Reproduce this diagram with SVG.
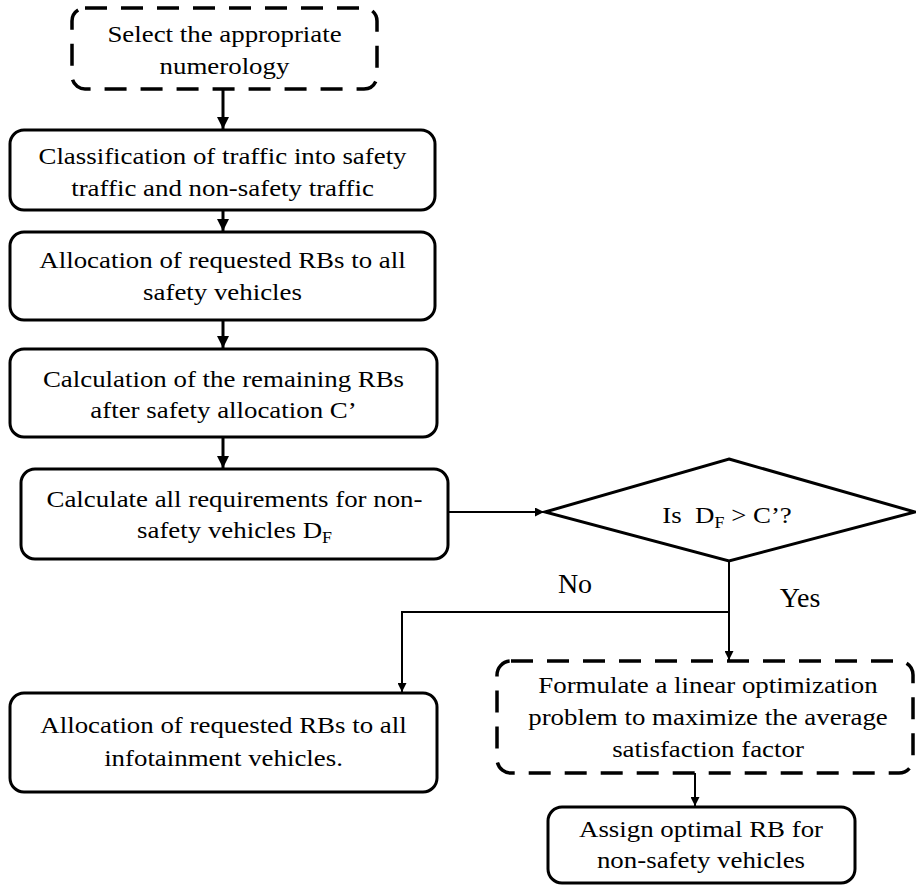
<svg xmlns="http://www.w3.org/2000/svg" width="916" height="889" viewBox="0 0 916 889">
<style>
.box{fill:#fff;stroke:#000;stroke-width:3}
.dash{fill:#fff;stroke:#000;stroke-width:3.5;stroke-dasharray:22 14}
.t{font-family:'Liberation Serif','Times New Roman',Times,'DejaVu Serif',serif;font-size:24px;fill:#000;text-anchor:middle}
.lbl{font-family:'Liberation Serif','Times New Roman',Times,'DejaVu Serif',serif;font-size:28px;fill:#000;text-anchor:middle}
.sub{font-size:16px}
.c{fill:none;stroke:#000;stroke-width:3}
.thin{fill:none;stroke:#000;stroke-width:2}
</style>
<defs>
<marker id="ah" markerUnits="userSpaceOnUse" markerWidth="12" markerHeight="12" refX="10" refY="5" orient="auto" viewBox="0 0 10 10">
<path d="M0,0 L10,5 L0,10 Z" fill="#000"/>
</marker>
<marker id="ahs" markerUnits="userSpaceOnUse" markerWidth="9" markerHeight="9" refX="10" refY="5" orient="auto" viewBox="0 0 10 10">
<path d="M0,0 L10,5 L0,10 Z" fill="#000"/>
</marker>
</defs>
<rect width="916" height="889" fill="#fff"/>
<g id="connectors">
<path class="c" d="M223,89 V129" marker-end="url(#ah)"/>
<path class="c" d="M223,210 V231" marker-end="url(#ah)"/>
<path class="c" d="M223,320 V348" marker-end="url(#ah)"/>
<path class="c" d="M223,437 V468" marker-end="url(#ah)"/>
<path class="thin" d="M448,512 H544" marker-end="url(#ahs)"/>
<path class="thin" d="M729,561 V660" marker-end="url(#ahs)"/>
<path class="thin" d="M729,612 H402 V692" marker-end="url(#ahs)"/>
<path class="thin" d="M695,773 V806" marker-end="url(#ahs)"/>
</g>
<g id="n1">
<rect class="dash" x="72" y="8" width="305" height="81" rx="13"/>
<text class="t" font-family="Liberation Serif, serif" transform="matrix(1.12 0 0 1 224.5 42)"><tspan x="0" y="0">Select the appropriate</tspan><tspan x="0" y="32">numerology</tspan></text>
</g>
<g id="n2">
<rect class="box" x="10" y="130" width="425" height="80" rx="14"/>
<text class="t" transform="matrix(1.12 0 0 1 222.5 164)"><tspan x="0" y="0">Classification of traffic into safety</tspan><tspan x="0" y="32">traffic and non-safety traffic</tspan></text>
</g>
<g id="n3">
<rect class="box" x="10" y="232" width="425" height="88" rx="14"/>
<text class="t" transform="matrix(1.12 0 0 1 222.5 268)"><tspan x="0" y="0">Allocation of requested RBs to all</tspan><tspan x="0" y="32">safety vehicles</tspan></text>
</g>
<g id="n4">
<rect class="box" x="10" y="349" width="427" height="88" rx="14"/>
<text class="t" transform="matrix(1.12 0 0 1 223.5 387)"><tspan x="0" y="0">Calculation of the remaining RBs</tspan><tspan x="0" y="31">after safety allocation C’</tspan></text>
</g>
<g id="n5">
<rect class="box" x="21" y="469" width="427" height="90" rx="14"/>
<text class="t" transform="matrix(1.12 0 0 1 234.5 507)"><tspan x="0" y="0">Calculate all requirements for non-</tspan><tspan x="0" y="31">safety vehicles D<tspan class="sub" dy="5">F</tspan></tspan></text>
</g>
<g id="n6">
<polygon points="729,459 915,512 729,561 545,512" fill="#fff" stroke="#000" stroke-width="3" stroke-linejoin="miter"/>
<text class="t" transform="matrix(1.12 0 0 1 727 523)" x="0" y="0" xml:space="preserve">Is  D<tspan class="sub" dy="5">F</tspan><tspan dy="-5"> &gt; C’?</tspan></text>
</g>
<g id="n7">
<rect class="box" x="10" y="693" width="427" height="99" rx="14"/>
<text class="t" transform="matrix(1.12 0 0 1 223.5 733)"><tspan x="0" y="0">Allocation of requested RBs to all</tspan><tspan x="0" y="33">infotainment vehicles.</tspan></text>
</g>
<g id="n8">
<rect class="dash" x="497" y="661" width="416" height="112" rx="14"/>
<text class="t" transform="matrix(1.12 0 0 1 708 693)"><tspan x="0" y="0">Formulate a linear optimization</tspan><tspan x="0" y="32">problem to maximize the average</tspan><tspan x="0" y="64">satisfaction factor</tspan></text>
</g>
<g id="n9">
<rect class="box" x="548" y="807" width="307" height="76" rx="14"/>
<text class="t" transform="matrix(1.12 0 0 1 701 837)"><tspan x="0" y="0">Assign optimal RB for</tspan><tspan x="0" y="31">non-safety vehicles</tspan></text>
</g>
<g id="labels">
<text class="lbl" x="575" y="593">No</text>
<text class="lbl" x="800" y="607">Yes</text>
</g>
</svg>
